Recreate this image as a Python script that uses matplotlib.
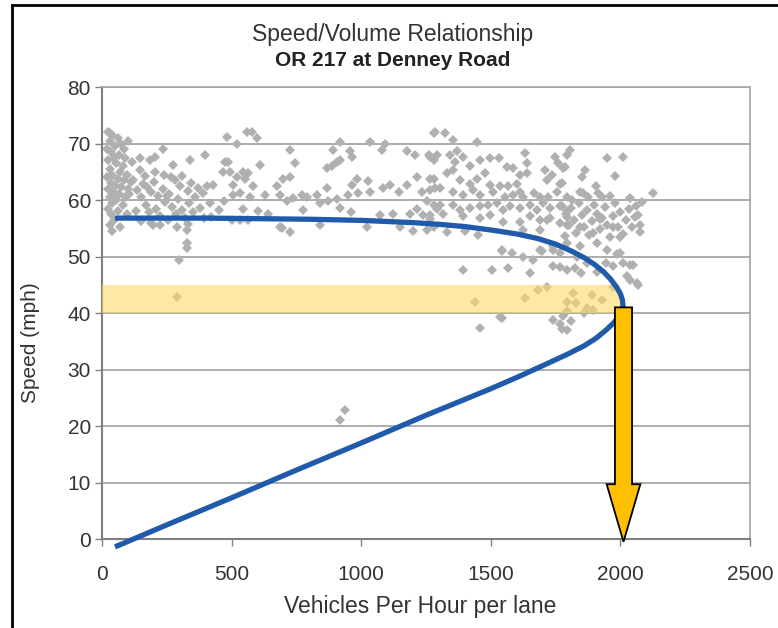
import numpy as np
import matplotlib.pyplot as plt
from matplotlib.patches import FancyArrow
from matplotlib.lines import Line2D

plt.rcParams['font.family'] = ['Liberation Sans', 'DejaVu Sans']

obs_points = [
    # column next to the y axis
    (25, 72), (40, 71.5), (60, 71), (30, 70.5), (75, 70), (50, 69.5), (20, 69), (85, 69),
    (35, 68.5), (65, 68), (45, 67.5), (90, 67.5), (25, 67), (55, 66.5), (80, 66), (30, 65.5),
    (70, 65), (40, 64.5), (95, 64.5), (20, 64), (60, 63.8), (85, 63.5), (35, 63), (50, 62.5),
    (75, 62.3), (25, 62), (100, 62), (45, 61.5), (65, 61), (30, 60.5), (90, 60.5), (55, 60),
    (40, 59.5), (80, 59.2), (25, 58.5), (60, 58), (35, 57.5), (95, 57.5), (45, 56.5), (30, 55.5),
    (70, 55.2), (40, 54.6), (110, 63.2), (105, 61), (115, 66.8), (100, 70.5), (31, 71.8),
    # 100-400
    (120, 63.5), (135, 61.8), (150, 60.5), (160, 62.8), (170, 59.2), (180, 57.8), (190, 61.5),
    (200, 63.2), (210, 58.5), (215, 60.8), (225, 57.2), (235, 62), (245, 59.6), (255, 56.5),
    (260, 61), (270, 58.8), (280, 63.5), (285, 57.5), (295, 60.2), (300, 62.4), (310, 58.2),
    (320, 56.8), (330, 61.6), (335, 59.4), (345, 63), (350, 57.8), (360, 60.5), (370, 62.2),
    (380, 58.6), (390, 61.2), (395, 56.9), (150, 56.3), (165, 64.3), (190, 56), (205, 65),
    (240, 64.5), (265, 64), (130, 58), (145, 65.3), (310, 64.2), (225, 55.5), (175, 62.3),
    (250, 60.8), (290, 55.3), (330, 55.8), (198, 55.6), (147, 67.4), (185, 67.1), (205, 67.7),
    (237, 69.1), (275, 66.2), (340, 67.1), (397, 68),
    # outliers
    (297, 49.3), (328, 54.7), (328, 52.4), (328, 51.5), (288, 42.8), (918, 21.1), (937, 22.8),
    # 400-650
    (481, 71.2), (520, 70), (558, 72.1), (578, 72.1), (597, 70.9), (475, 66.8), (488, 66.8),
    (468, 65), (494, 65), (520, 64.1), (545, 65), (565, 64.7), (552, 63.8), (610, 66.2),
    (584, 62.4), (507, 62.7), (533, 61.2), (507, 60.9), (571, 60.6), (629, 60.9), (404, 62.4),
    (430, 62.7), (417, 59.4), (533, 56.4), (565, 56.4), (500, 56.4), (450, 58.2), (470, 59.8),
    (600, 58), (640, 57.5), (420, 57), (545, 58.5),
    # 650-1300
    (725, 68.8), (745, 66.5), (918, 70.3), (892, 68.8), (957, 68.6), (963, 67.7), (1034, 70.3),
    (1079, 68.8), (1092, 70), (1176, 68.6), (1208, 68), (1279, 71.8), (1260, 68), (1279, 67.1),
    (867, 65.6), (886, 66), (905, 66.8), (918, 67.1), (983, 63.8), (963, 62.7), (1028, 63.3),
    (950, 60.9), (989, 61.2), (1034, 61.5), (1085, 62.1), (1111, 62.7), (1144, 61.5),
    (1176, 62.7), (1214, 64.1), (1234, 61.5), (1266, 63.8), (1285, 62.1), (700, 63.8),
    (725, 64.1), (674, 62.4), (687, 60.9), (712, 59.8), (738, 60.4), (770, 60.9), (790, 60.6),
    (828, 60.9), (867, 62.1), (873, 59.8), (905, 60.1), (918, 58.6), (841, 59.5), (777, 58.3),
    (841, 55.6), (687, 55.3), (725, 54.4), (1021, 55.3), (1072, 57.3), (1124, 57.6),
    (1189, 57.6), (1214, 58.5), (1240, 57.3), (1279, 59.1), (1266, 56.7), (1292, 58.5),
    (694, 55), (960, 57.8), (1150, 55.2), (1200, 54.6),
    # 1230-1800
    (1285, 72), (1323, 71.8), (1356, 70.6), (1446, 70.3), (1266, 67.7), (1292, 68), (1343, 68),
    (1369, 68.6), (1394, 67.7), (1362, 66.8), (1459, 67.1), (1497, 67.4), (1530, 67.4),
    (1562, 65.9), (1587, 65.6), (1632, 68.3), (1639, 66.5), (1639, 64.7), (1613, 64.4),
    (1748, 67.7), (1761, 66.5), (1787, 65.9), (1709, 65.3), (1716, 63.5), (1735, 64.4),
    (1767, 62.9), (1330, 64.7), (1356, 65.3), (1279, 63.8), (1266, 61.8), (1305, 62.1),
    (1382, 63.5), (1420, 66), (1420, 62.9), (1446, 63.8), (1478, 64.7), (1497, 62.7),
    (1510, 61.5), (1536, 62.4), (1568, 62.4), (1600, 62.9), (1613, 61.5), (1555, 60.6),
    (1587, 60.9), (1626, 60.6), (1665, 61.2), (1690, 60.6), (1722, 60.6), (1755, 61.5),
    (1793, 60.6), (1433, 61.8), (1459, 60.9), (1394, 60.9), (1356, 61.5), (1253, 59.8),
    (1305, 59.2), (1356, 59.2), (1382, 58.3), (1420, 58.6), (1459, 58.9), (1491, 59.2),
    (1523, 59.5), (1549, 58.3), (1575, 58.9), (1613, 58.6), (1652, 59.2), (1677, 58.3),
    (1703, 59.5), (1729, 58.6), (1767, 58.9), (1793, 58), (1266, 57.3), (1317, 57.6),
    (1394, 57.1), (1459, 56.8), (1497, 57.3), (1549, 56.2), (1613, 56.2), (1652, 57.1),
    (1690, 56.5), (1729, 56.8), (1767, 55.9), (1793, 55.6), (1279, 55.3), (1253, 54.7),
    (1331, 54.4), (1400, 54.5), (1450, 53.8),
    # 1770-2190
    (1806, 68.8), (1793, 67.9), (1947, 67.5), (2011, 67.7), (1863, 65.3), (1850, 64.1),
    (1979, 64.3), (1780, 65.6), (1774, 63), (1857, 61.2), (1915, 61.2), (1928, 60.6),
    (2037, 60.4), (2082, 59.7), (2127, 61.2), (2069, 57.3), (2075, 55.6), (2075, 54.4),
    (1775, 59), (1790, 57.5), (1800, 55.5), (1810, 58.6), (1820, 56.5), (1830, 54.2),
    (1840, 59.5), (1850, 57.3), (1860, 55.2), (1870, 58.2), (1880, 53.8), (1890, 56.3),
    (1900, 59.2), (1910, 57.6), (1920, 54.8), (1930, 56.9), (1940, 58.8), (1950, 55.6),
    (1960, 53.5), (1970, 57.2), (1980, 59.5), (1990, 55.3), (2000, 57.8), (2010, 54),
    (2020, 56.5), (2035, 58.4), (2045, 55.2), (2055, 57), (1785, 53.6), (1815, 60),
    (1845, 61.5), (1875, 60.6), (1905, 62.5), (1960, 60.8), (2060, 59),
    # near the nose of the curve
    (1625, 54.7), (1690, 54.7), (1716, 56.5), (1793, 57), (1844, 55.2), (1895, 54.2),
    (1921, 56.6), (1972, 55.2), (1998, 53.4), (1908, 52.4), (1947, 51.2), (1998, 50.6),
    (2011, 48.9), (2050, 48.5), (2063, 45.3), (2024, 46.5), (1972, 48.3), (1870, 48.8),
    (1832, 50), (1767, 50.6), (1741, 51.8), (1793, 52.4), (1844, 51.8), (1690, 51.2),
    (1664, 49.4), (1625, 50), (1580, 50.6), (1542, 51.2), (1741, 48.3), (1793, 47.7),
    (1542, 50.9), (1393, 47.6), (1503, 47.6), (1567, 47.9), (1651, 47), (1696, 50.9),
    (1741, 51.2), (1767, 48.2), (1825, 47.9), (1849, 47.1), (1908, 47.3), (1946, 48.8),
    (1985, 50.4), (2037, 48.5), (2037, 45.8), (2068, 45),
    # in and below the 40-45 band
    (1683, 44.1), (1715, 44.6), (1439, 42), (1632, 42.6), (1817, 43.5), (1889, 43.2),
    (1928, 42.3), (1793, 42), (1830, 41.7), (1870, 40.9), (1895, 40.6), (1860, 40),
    (1793, 40.3), (1971, 44.6), (1542, 39.1), (1458, 37.3), (1741, 38.8), (1767, 38.1),
    (1793, 37), (1773, 37.2), (1535, 39.3), (1780, 39.5), (1810, 38.6),
]

# fitted speed/volume curve, upper branch then lower branch
curve_vol = [50, 200, 400, 600, 800, 1000, 1100, 1200, 1300, 1400, 1500, 1600, 1680, 1750,
             1810, 1860, 1900, 1935, 1962, 1985, 2000, 2008, 2010,
             2005, 1995, 1975, 1945, 1905, 1860, 1800, 1720, 1620, 1500, 1250, 1000, 750,
             500, 250, 50]
curve_speed = [56.8, 56.8, 56.8, 56.7, 56.6, 56.4, 56.2, 56.0, 55.7, 55.3, 54.7, 54.0, 53.2,
               52.2, 51.0, 49.8, 48.6, 47.3, 46.0, 44.6, 43.4, 42.3, 41.3,
               40.3, 39.5, 38.3, 37.0, 35.5, 34.2, 32.8, 31.1, 29.0, 26.6, 21.9, 17.0, 12.2,
               7.3, 2.5, -1.4]

band_speed = (40, 45)      # highlighted speed band
band_vol_end = 2000
capacity_vol = 2012        # arrow drawn down to capacity
capacity_speed = 41

x_ticks = [0, 500, 1000, 1500, 2000, 2500]
y_ticks = [0, 10, 20, 30, 40, 50, 60, 70, 80]

obs_vol, obs_speed = np.array(obs_points).T

fig = plt.figure(figsize=(7.78, 6.28), dpi=100)
ax = fig.add_axes([0.1311, 0.1417, 0.8329, 0.7197])

ax.plot(obs_vol, obs_speed, 'D', color='#B0B0B0', markersize=5.3, markeredgewidth=0, zorder=2)

ax.fill_between([0, band_vol_end], band_speed[0], band_speed[1],
                color='#FFD966', alpha=0.6, linewidth=0, zorder=3)

ax.plot(curve_vol, curve_speed, color='#1F5BAA', linewidth=3.8, solid_capstyle='butt',
        clip_on=False, zorder=4)

arrow = FancyArrow(capacity_vol, capacity_speed, 0, -(capacity_speed + 0.5),
                   width=66, head_width=130, head_length=10.2, length_includes_head=True,
                   facecolor='#FFC000', edgecolor='black', linewidth=1.3,
                   clip_on=False, zorder=5)
ax.add_patch(arrow)

ax.set_xlim(0, 2500)
ax.set_ylim(0, 80)
ax.set_xticks(x_ticks)
ax.set_yticks(y_ticks)
ax.yaxis.grid(True, color='#A6A6A6', linewidth=1.3)
ax.set_axisbelow(True)
ax.tick_params(direction='out', length=5, width=1, color='#808080',
               labelcolor='#333333', labelsize=15)
ax.tick_params(axis='x', pad=14)
ax.tick_params(axis='y', pad=3)
for side in ['left', 'bottom']:
    ax.spines[side].set_color('#808080')
    ax.spines[side].set_linewidth(1.5)
for side in ['top', 'right']:
    ax.spines[side].set_color('#A6A6A6')
    ax.spines[side].set_linewidth(1.2)

fig.text(0.505, 1 - 35 / 628, 'Speed/Volume Relationship', ha='center', va='center',
         fontsize=16.5, color='#333333')
fig.text(0.505, 1 - 61 / 628, 'OR 217 at Denney Road', ha='center', va='center',
         fontsize=15, fontweight='bold', color='#222222')
fig.text(420 / 778, 1 - 607 / 628, 'Vehicles Per Hour per lane', ha='center', va='center',
         fontsize=16.5, color='#333333')
fig.text(30 / 778, 1 - 343 / 628, 'Speed (mph)', ha='center', va='center', rotation=90,
         fontsize=15, color='#333333')

# black frame of the screenshot (left and top edges)
fig.add_artist(Line2D([12 / 778, 12 / 778], [0, 1 - 5 / 628], color='black', linewidth=2))
fig.add_artist(Line2D([12 / 778, 1], [1 - 5 / 628, 1 - 5 / 628], color='black', linewidth=2))

fig.savefig('out.png', dpi=100)
